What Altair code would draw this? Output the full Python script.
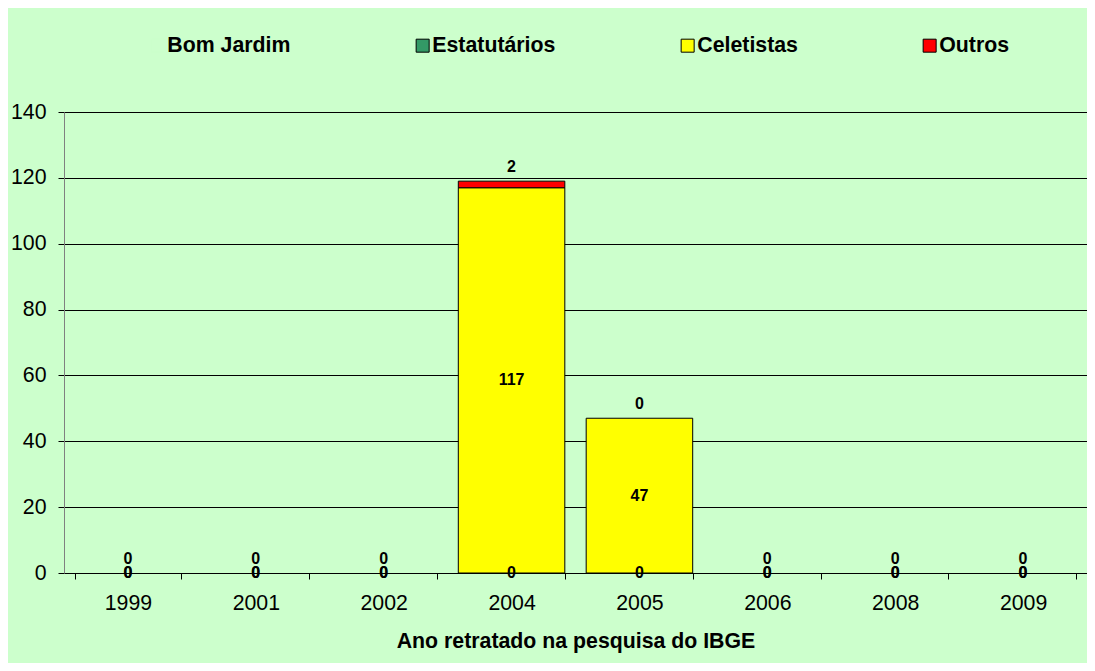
import altair as alt
import pandas as pd

years = ["1999", "2001", "2002", "2004", "2005", "2006", "2008", "2009"]
series = ["Estatutários", "Celetistas", "Outros"]
estatutarios = [0, 0, 0, 0, 0, 0, 0, 0]
celetistas = [0, 0, 0, 117, 47, 0, 0, 0]
outros = [0, 0, 0, 2, 0, 0, 0, 0]

legend_domain = ["Bom Jardim"] + series
fill_range = ["#CCFFCC", "#339966", "#FFFF00", "#FF0000"]
stroke_range = ["#CCFFCC", "#000000", "#000000", "#000000"]

rows = []
for i, y in enumerate(years):
    for k, (s, vals) in enumerate(zip(series, [estatutarios, celetistas, outros])):
        rows.append({"year": y, "series": s, "value": vals[i], "ord": k})
df = pd.DataFrame(rows)

FONT = "Liberation Sans"
BG = "#CCFFCC"
FS = 21.3

legend = alt.Legend(
    title=None, orient="none", legendX=83, legendY=-77, direction="horizontal",
    columns=4, columnPadding=121, symbolType="square", symbolSize=169,
    symbolStrokeWidth=1, labelFont=FONT, labelFontSize=FS, labelFontWeight="bold",
    labelColor="#000000", labelOffset=alt.ExprRef(expr="-1"), padding=0, labelLimit=300,
)

base = alt.Chart(df).transform_stack(
    stack="value", groupby=["year"], sort=[alt.SortField("ord")], as_=["y0", "y1"]
)

xenc = alt.X(
    "year:N", sort=years,
    scale=alt.Scale(paddingInner=0.167, paddingOuter=0.0835),
    axis=alt.Axis(
        title="Ano retratado na pesquisa do IBGE", titleFont=FONT, titleFontSize=FS,
        titleFontWeight="bold", titleColor="#000000", titlePadding=17,
        labelFont=FONT, labelFontSize=FS, labelColor="#000000", labelAngle=0,
        labelPadding=13, tickBand="extent", tickSize=6, tickColor="#000000",
        domainColor="#000000", grid=False,
    ),
)

bars = base.transform_filter(alt.datum.value > 0).mark_bar(strokeWidth=1).encode(
    x=xenc,
    y=alt.Y(
        "y0:Q", scale=alt.Scale(domain=[0, 140]),
        axis=alt.Axis(
            title=None, values=[0, 20, 40, 60, 80, 100, 120, 140],
            labelFont=FONT, labelFontSize=FS, labelColor="#000000", labelPadding=12,
            tickSize=6, tickColor="#000000", domainColor="#808080",
            grid=True, gridColor="#000000", gridWidth=1,
        ),
    ),
    y2="y1:Q",
    fill=alt.Fill("series:N", scale=alt.Scale(domain=legend_domain, range=fill_range), legend=legend),
    stroke=alt.Stroke("series:N", scale=alt.Scale(domain=legend_domain, range=stroke_range), legend=legend),
)

mid_labels = base.transform_filter(
    alt.datum.series != "Outros"
).transform_calculate(mid="(datum.y0 + datum.y1) / 2").mark_text(
    font=FONT, fontSize=16, fontWeight="bold", color="#000000", baseline="middle"
).encode(x=alt.X("year:N", sort=years), y="mid:Q", text="value:Q")

top_labels = base.transform_filter(
    alt.datum.series == "Outros"
).mark_text(
    font=FONT, fontSize=16, fontWeight="bold", color="#000000", baseline="middle", dy=-14
).encode(x=alt.X("year:N", sort=years), y="y1:Q", text="value:Q")

chart = alt.layer(bars, mid_labels, top_labels).properties(
    width=1023, height=461, background=BG,
    autosize=alt.AutoSizeParams(type="none"),
    padding={"left": 56, "top": 104, "right": 0, "bottom": 90},
).configure_view(fill=BG, stroke=None)

chart.save("out.html", embed_options={"renderer": "svg", "actions": False})
